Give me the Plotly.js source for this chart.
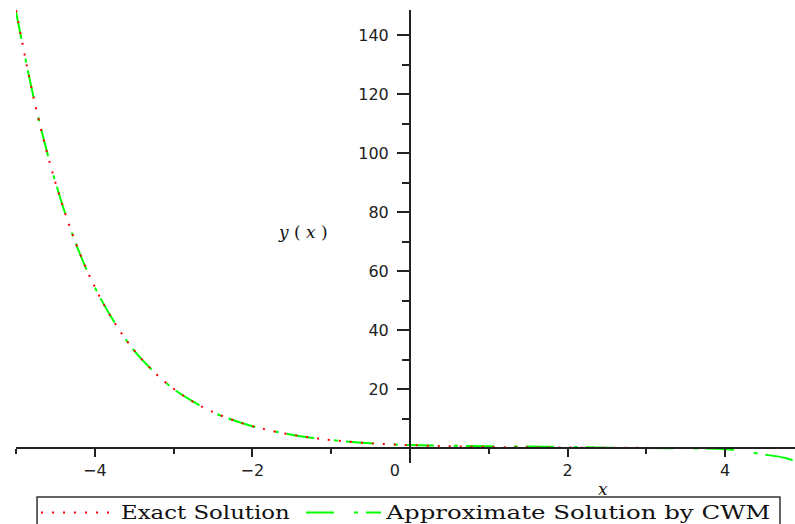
<!DOCTYPE html>
<html>
<head>
<meta charset="utf-8">
<script src="https://cdn.plot.ly/plotly-3.0.1.min.js"></script>
<style>
  html, body { margin: 0; padding: 0; background: #ffffff; }
  #chart { width: 795px; height: 524px; }
  #chart .legendtext { transform-box: fill-box; transform-origin: 0 50%; transform: scaleX(1.27); }
  #chart .legend2text { transform-box: fill-box; transform-origin: 0 50%; transform: scaleX(1.36); }
  #chart .scrollbox { clip-path: none !important; }
</style>
</head>
<body>
<div id="chart"></div>
<script>
// ---- data ----
const exactX = [-5, -4.75, -4.5, -4.25, -4, -3.75, -3.5, -3.25, -3, -2.75, -2.5, -2.25, -2, -1.75, -1.5, -1.25, -1, -0.5, 0, 0.5, 1, 1.5, 2, 3, 4, 5];
const exactY = [148.4, 115.6, 90.0, 70.1, 54.6, 42.5, 33.1, 25.8, 20.1, 15.6, 12.2, 9.5, 7.4, 5.8, 4.5, 3.5, 2.7, 1.6, 1.0, 0.6, 0.37, 0.22, 0.14, 0.05, 0.02, 0.01];

const approxX = [-5, -4.75, -4.5, -4.25, -4, -3.75, -3.5, -3.25, -3, -2.75, -2.5, -2.25, -2, -1.75, -1.5, -1.25, -1, -0.5, 0, 0.5, 1, 1.5, 2, 2.5, 3, 3.5, 4, 4.25, 4.5, 4.75, 4.9];
const approxY = [148.0, 115.8, 90.2, 70.0, 54.5, 42.6, 33.0, 25.9, 20.0, 15.7, 12.1, 9.5, 7.4, 5.8, 4.5, 3.5, 2.7, 1.6, 1.0, 0.8, 0.6, 0.5, 0.4, 0.1, 0.0, -0.1, -0.4, -1.2, -2.2, -3.3, -4.6];

const seriesNames = ["Exact Solution", "Approximate Solution by CWM"];

const xTickVals = [-4, -2, 0, 2, 4];
const xTickText = ["\u22124", "\u22122", "0\u00a0\u00a0\u00a0\u00a0\u00a0\u00a0", "2", "4"];
const xMinorTickVals = [-5, -3, -1, 1, 3];
const yTickVals = [20, 40, 60, 80, 100, 120, 140];
const yTickText = ["20", "40", "60", "80", "100", "120", "140"];
const yMinorTickVals = [10, 30, 50, 70, 90, 110, 130];

const xRange = [-5, 4.886];
const yRange = [-5.08, 148.5];

// ---- traces ----
const traces = [
  {
    x: approxX, y: approxY, type: "scatter", mode: "lines",
    name: seriesNames[1], legend: "legend2",
    line: { color: "#00ff00", width: 2, dash: "28px,20px,4px,8px", shape: "spline", smoothing: 1 },
    hoverinfo: "skip"
  },
  {
    x: exactX, y: exactY, type: "scatter", mode: "lines",
    name: seriesNames[0], legend: "legend",
    line: { color: "#ff0000", width: 2, dash: "2px,9px", shape: "spline", smoothing: 1 },
    hoverinfo: "skip"
  }
];

const axisColor = "#222222";
const tickFont = { family: "DejaVu Sans", size: 16, color: "#222222" };
const legendFont = { family: "DejaVu Serif", size: 18, color: "#111111" };
const legendBase = {
  orientation: "h", xanchor: "left", y: -0.069, yanchor: "top",
  bgcolor: "rgba(0,0,0,0)", borderwidth: 0, font: legendFont, itemwidth: 75
};

const layout = {
  width: 795, height: 524,
  margin: { l: 16, r: 0, t: 10, b: 61, autoexpand: false },
  paper_bgcolor: "#ffffff", plot_bgcolor: "#ffffff",
  showlegend: true,
  xaxis: {
    range: xRange, anchor: "free",
    position: (0 - yRange[0]) / (yRange[1] - yRange[0]),
    showline: true, linecolor: axisColor, linewidth: 2,
    showgrid: false, zeroline: false,
    ticks: "outside", ticklen: 8, tickwidth: 2, tickcolor: axisColor,
    tickmode: "array", tickvals: xTickVals, ticktext: xTickText,
    tickfont: tickFont,
    minor: { tickvals: xMinorTickVals, ticks: "outside", ticklen: 5, tickwidth: 2, tickcolor: axisColor, showgrid: false }
  },
  yaxis: {
    range: yRange, anchor: "free",
    position: (0 - xRange[0]) / (xRange[1] - xRange[0]),
    showline: true, linecolor: axisColor, linewidth: 2,
    showgrid: false, zeroline: false,
    ticks: "outside", ticklen: 12, tickwidth: 2, tickcolor: axisColor,
    tickmode: "array", tickvals: yTickVals, ticktext: yTickText,
    tickfont: tickFont, ticklabelstandoff: 5,
    minor: { tickvals: yMinorTickVals, ticks: "outside", ticklen: 7, tickwidth: 2, tickcolor: axisColor, showgrid: false }
  },
  legend: Object.assign({}, legendBase, { x: 0.0257 }),
  legend2: Object.assign({}, legendBase, { x: 0.3659 }),
  shapes: [
    {
      type: "rect", xref: "paper", yref: "paper",
      x0: 0.027, x1: 0.9807, y0: -0.0751, y1: -0.2,
      line: { color: "#333333", width: 1.5 }, fillcolor: "rgba(0,0,0,0)", layer: "above"
    }
  ],
  annotations: [
    {
      text: "<i>y</i> ( <i>x</i> )", xref: "x", yref: "y", x: -1.36, y: 73.4,
      showarrow: false, font: { family: "DejaVu Serif", size: 17, color: "#111111" }
    },
    {
      text: "<i>x</i>", xref: "x", yref: "paper", x: 2.45, y: -0.0574,
      showarrow: false, yanchor: "middle", font: { family: "DejaVu Serif", size: 17, color: "#111111" }
    }
  ]
};

function unclipLegends(gd) {
  gd.querySelectorAll(".legendtext, .legend2text").forEach(t => {
    let p = t.parentNode;
    while (p && p !== gd && p.nodeName.toLowerCase() !== "svg") {
      if (p.hasAttribute && p.hasAttribute("clip-path")) p.style.clipPath = "none";
      p = p.parentNode;
    }
  });
}

Plotly.newPlot("chart", traces, layout, { staticPlot: true, displayModeBar: false }).then(gd => {
  unclipLegends(gd);
  setTimeout(() => unclipLegends(gd), 100);
});
</script>
</body>
</html>
